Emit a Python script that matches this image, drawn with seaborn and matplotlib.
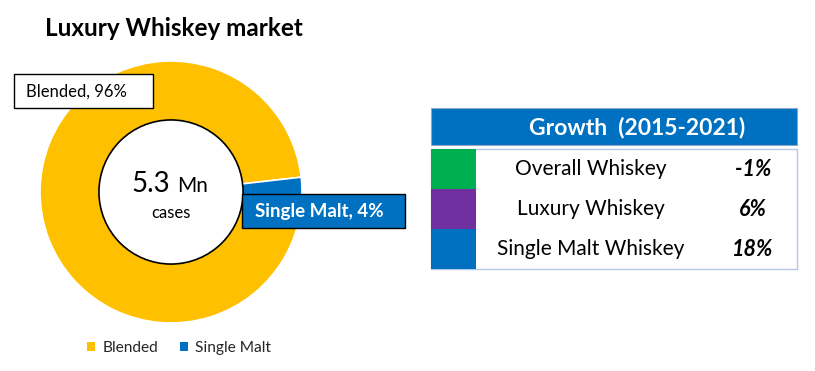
import matplotlib
matplotlib.use("Agg")
import matplotlib.pyplot as plt
from matplotlib.patches import Rectangle, Circle, Patch
import seaborn as sns

# ---- data ----
segments = ["Blended", "Single Malt"]
shares = [96, 4]
segment_colors = ["#FFC000", "#0070C0"]
total_label = "5.3"
total_unit = "Mn"
total_sub = "cases"

growth_title = "Growth  (2015-2021)"
growth_categories = ["Overall Whiskey", "Luxury Whiskey", "Single Malt Whiskey"]
growth_values = [-1, 6, 18]
growth_colors = ["#00B050", "#7030A0", "#0070C0"]

sns.set_theme(style="white")
plt.rcParams['font.family'] = ['Lato', 'DejaVu Sans']

W, H = 815, 371
fig = plt.figure(figsize=(W / 100, H / 100), dpi=100)

# ---- donut ----
cx, cy, R = 171, 192, 131
ax = fig.add_axes([(cx - R) / W, (H - cy - R) / H, 2 * R / W, 2 * R / H])
ax.pie(shares, colors=segment_colors, startangle=6.5, counterclock=True,
       radius=1.0, wedgeprops=dict(width=0.5, edgecolor="white", linewidth=1.2))
ax.add_patch(Circle((0, 0.0), 0.55, facecolor="white", edgecolor="black", linewidth=1.2, zorder=5))
ax.set_xlim(-1, 1)
ax.set_ylim(-1, 1)
ax.set_aspect("equal")
ax.axis("off")

# ---- overlay in pixel coordinates ----
ov = fig.add_axes([0, 0, 1, 1], zorder=10)
ov.set_xlim(0, W)
ov.set_ylim(H, 0)
ov.axis("off")
ov.patch.set_alpha(0)

ov.text(45, 29, "Luxury Whiskey market", fontsize=17.5, fontweight="bold", va="center", ha="left", color="black")

# center text
ov.text(170, 184, total_label, fontsize=20, ha="right", va="center", color="black")
ov.text(177, 186, total_unit, fontsize=15, ha="left", va="center", color="black")
ov.text(171, 213, total_sub, fontsize=12, ha="center", va="center", color="black")

# data labels
ov.add_patch(Rectangle((14, 74), 139, 34, facecolor="white", edgecolor="black", linewidth=1))
ov.text(26, 92, f"{segments[0]}, {shares[0]}%", fontsize=12, ha="left", va="center", color="black")
ov.add_patch(Rectangle((242, 194), 163, 34, facecolor=segment_colors[1], edgecolor="black", linewidth=1))
ov.text(255, 212, f"{segments[1]}, {shares[1]}%", fontsize=13.5, fontweight="bold", ha="left", va="center", color="white")

# legend
handles = [Patch(facecolor=c, edgecolor="none") for c in segment_colors]
fig.legend(handles, segments, loc="center", bbox_to_anchor=(179 / W, 1 - 348 / H), ncol=2,
           frameon=False, fontsize=11.2, handlelength=0.55, handleheight=0.55,
           handletextpad=0.45, columnspacing=1.4)

# growth table
tx0, tx1 = 431, 797
ov.add_patch(Rectangle((tx0, 108), tx1 - tx0, 37, facecolor="#0070C0", edgecolor="#8EA9C8", linewidth=0.8))
ov.text(637, 127, growth_title, fontsize=16.5, fontweight="bold", color="white", ha="center", va="center")
row_top = 149
row_h = 40
ov.add_patch(Rectangle((tx0, row_top), tx1 - tx0, row_h * len(growth_categories),
                       facecolor="white", edgecolor="#B4C7E7", linewidth=1))
for i, (cat, val, col) in enumerate(zip(growth_categories, growth_values, growth_colors)):
    y0 = row_top + i * row_h
    ov.add_patch(Rectangle((tx0, y0), 45, row_h, facecolor=col, edgecolor="none"))
    ov.text(591, y0 + row_h / 2, cat, fontsize=15, ha="center", va="center", color="black")
    ov.text(753, y0 + row_h / 2, f"{val}%", fontsize=15.5, fontweight="bold", fontstyle="italic",
            ha="center", va="center", color="black")

fig.savefig("out.png", dpi=100)
